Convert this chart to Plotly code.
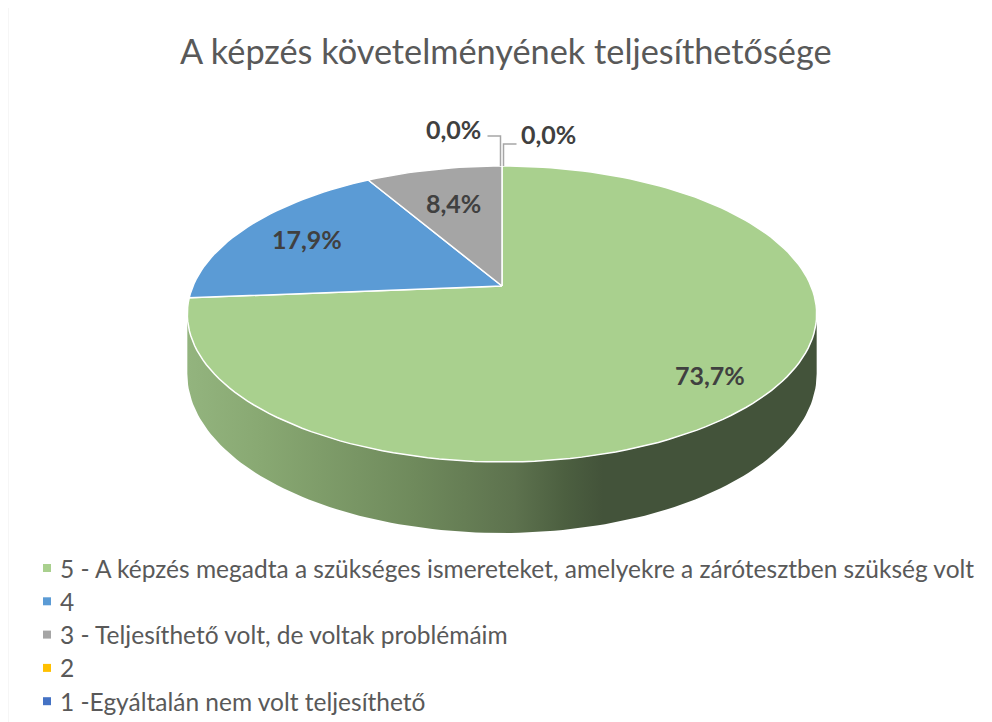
import math
import plotly.graph_objects as go

# ---------------- data ----------------
categories = [
    "5 - A képzés megadta a szükséges ismereteket, amelyekre a zárótesztben szükség volt",
    "4",
    "3 - Teljesíthető volt, de voltak problémáim",
    "2",
    "1 -Egyáltalán nem volt teljesíthető",
]
values = [73.7, 17.9, 8.4, 0.0, 0.0]
title_text = "A képzés követelményének teljesíthetősége"

# ---------------- style ----------------
colors = ["#A9D08E", "#5B9BD5", "#A5A5A5", "#FFC000", "#4472C4"]
side_scale = [[0.0, "#93b47e"], [0.12, "#88a872"], [0.36, "#6f8a5c"], [0.52, "#5d724e"],
              [0.6, "#4c5f40"], [0.66, "#43533a"], [1.0, "#43533a"]]
label_r = [0.82, 0.76, 0.68, 1.0, 1.0]   # radial position of inside labels
W, H = 992, 722
OFF = 8                      # default page body margin
CX, CY = 502.0, 286.0        # apex of the pie (page pixels)
RX, RY = 309.0, 142.7        # projected radii
K = 0.189                    # perspective factor
DEPTH = 57.6                 # thickness
FONT = "Lato"
TXT = "#595959"
LBL = "#404040"


def proj(theta, r=1.0, drop=0.0):
    u = r * math.sin(theta)
    v = r * math.cos(theta)
    w = 1.0 / (1.0 + K * v)
    return CX + RX * u * w, CY - RY * v * w + drop * w


total = sum(values)
starts, ends = [], []
acc = 0.0
for v in values:
    starts.append(2 * math.pi * acc / total)
    acc += v
    ends.append(2 * math.pi * acc / total)

fig = go.Figure()

# ---- side walls (front, visible part) ----
t1 = math.acos(-K)
t2 = 2 * math.pi - t1
for i, v in enumerate(values):
    a, b = max(starts[i], t1), min(ends[i], t2)
    if v <= 0 or b <= a:
        continue
    n = 120
    ts = [a + (b - a) * j / n for j in range(n + 1)]
    top = [proj(t) for t in ts]
    bot = [proj(t, drop=DEPTH) for t in reversed(ts)]
    pts = top + bot
    fig.add_trace(go.Scatter(
        x=[p[0] for p in pts] + [pts[0][0]], y=[p[1] for p in pts] + [pts[0][1]],
        mode="lines", fill="toself", line=dict(width=0, color="rgba(0,0,0,0)"),
        fillgradient=dict(type="horizontal", colorscale=side_scale),
        hoverinfo="skip", showlegend=False))

# ---- top face slices ----
for i, v in enumerate(values):
    if v <= 0:
        continue
    n = max(8, int(200 * v / total))
    ts = [starts[i] + (ends[i] - starts[i]) * j / n for j in range(n + 1)]
    pts = [(CX, CY)] + [proj(t) for t in ts] + [(CX, CY)]
    fig.add_trace(go.Scatter(
        x=[p[0] for p in pts], y=[p[1] for p in pts], mode="lines", fill="toself",
        fillcolor=colors[i], line=dict(color="white", width=1.5),
        name=categories[i], hoverinfo="name", showlegend=False))

annotations = []
shapes = []


def fmt(v):
    return f"{v:.1f}".replace(".", ",") + "%"


# ---- data labels ----
zero_side = -1
for i, v in enumerate(values):
    if v > 0:
        mid = (starts[i] + ends[i]) / 2
        x, y = proj(mid, r=label_r[i])
        annotations.append(dict(x=x, y=y, text=f"<b>{fmt(v)}</b>", showarrow=False,
                                font=dict(family=FONT, size=25, color=LBL),
                                xanchor="center", yanchor="middle"))
    else:
        ax, ay = proj(ends[i])
        ax += 1.5 * zero_side
        rise = 30 if zero_side < 0 else 22
        run = 13 * zero_side
        lx, ly = ax + run, ay - rise
        shapes.append(dict(type="path", xref="x", yref="y",
                           path=f"M {ax} {ay} L {ax} {ly} L {lx} {ly}",
                           line=dict(color="#a6a6a6", width=1.5)))
        annotations.append(dict(x=lx + (5 if zero_side < 0 else 2) * zero_side,
                                y=ly - (7 if zero_side < 0 else 10),
                                text=f"<b>{fmt(v)}</b>", showarrow=False,
                                font=dict(family=FONT, size=25, color=LBL),
                                xanchor="right" if zero_side < 0 else "left", yanchor="middle"))
        zero_side = -zero_side

# ---- title ----
annotations.append(dict(x=506, y=50, text=title_text, showarrow=False,
                        font=dict(family=FONT, size=34.3, color=TXT),
                        xanchor="center", yanchor="middle"))

# ---- legend (manual) ----
LEG_X, LEG_Y0, LEG_DY = 47, 568, 33.3
fig.add_trace(go.Scatter(
    x=[LEG_X] * len(categories), y=[LEG_Y0 + LEG_DY * i for i in range(len(categories))],
    mode="markers", marker=dict(symbol="square", size=8, color=colors),
    hoverinfo="skip", showlegend=False))
for i, c in enumerate(categories):
    annotations.append(dict(x=LEG_X + 11, y=LEG_Y0 + LEG_DY * i, text=c, showarrow=False,
                            font=dict(family=FONT, size=24.5, color=TXT),
                            xanchor="left", yanchor="middle"))

# ---- chart border ----
shapes.append(dict(type="line", xref="x", yref="y", x0=7, y0=6.5, x1=W + OFF, y1=6.5,
                   line=dict(color="#d9d9d9", width=1.5)))
shapes.append(dict(type="line", xref="x", yref="y", x0=7.5, y0=6, x1=7.5, y1=H + OFF,
                   line=dict(color="#d9d9d9", width=1.5)))

fig.update_layout(
    width=W, height=H, margin=dict(l=0, r=0, t=0, b=0),
    paper_bgcolor="white", plot_bgcolor="white",
    xaxis=dict(range=[OFF, W + OFF], visible=False, fixedrange=True),
    yaxis=dict(range=[H + OFF, OFF], visible=False, fixedrange=True),
    annotations=annotations, shapes=shapes, showlegend=False,
)

fig.write_html("out.html")
